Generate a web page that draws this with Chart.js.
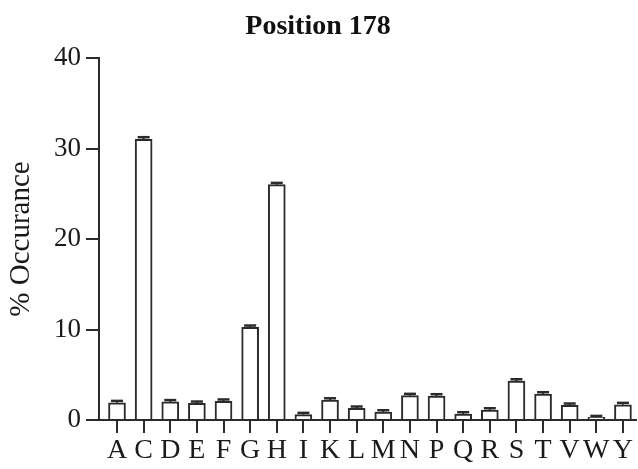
<!DOCTYPE html>
<html>
<head>
<meta charset="utf-8">
<script src="https://cdn.jsdelivr.net/npm/chart.js@4"></script>
<style>
html,body{margin:0;padding:0;background:#fff;}
#wrap{width:638px;height:469px;}
</style>
</head>
<body>
<div id="wrap"><canvas id="c" width="638" height="469"></canvas></div>
<script>
const categories = ["A","C","D","E","F","G","H","I","K","L","M","N","P","Q","R","S","T","V","W","Y"];
const occurrence = [1.91,31.0,2.0,1.84,2.07,10.24,26.0,0.59,2.2,1.29,0.88,2.69,2.65,0.66,1.1,4.3,2.87,1.62,0.3,1.69];
const errors = [0.2,0.25,0.2,0.2,0.2,0.2,0.2,0.2,0.2,0.2,0.2,0.2,0.2,0.2,0.2,0.2,0.2,0.2,0.15,0.2];
const yTicks = [0,10,20,30,40];
const titleText = "Position 178";
const yTitle = "% Occurance";

const ink = '#2b2b2b';
const serif = "'Liberation Serif','Times New Roman',serif";

const errorBars = {
  id: 'errorBars',
  afterDatasetsDraw(chart) {
    const meta = chart.getDatasetMeta(0);
    const ys = chart.scales.y;
    const ctx = chart.ctx;
    ctx.save();
    ctx.strokeStyle = ink;
    meta.data.forEach((bar, i) => {
      const top = ys.getPixelForValue(occurrence[i] + errors[i]);
      const base = ys.getPixelForValue(occurrence[i]);
      ctx.lineWidth = 2;
      ctx.beginPath();
      ctx.moveTo(bar.x, base);
      ctx.lineTo(bar.x, top);
      ctx.stroke();
      ctx.lineWidth = 2.5;
      ctx.beginPath();
      ctx.moveTo(bar.x - 6, top);
      ctx.lineTo(bar.x + 6, top);
      ctx.stroke();
    });
    ctx.restore();
  }
};

new Chart(document.getElementById('c'), {
  type: 'bar',
  data: {
    datasets: [{
      data: occurrence.map((v, i) => ({x: i, y: v})),
      backgroundColor: '#ffffff',
      borderColor: ink,
      borderWidth: 2,
      barThickness: 17
    }]
  },
  plugins: [errorBars],
  options: {
    responsive: false,
    animation: false,
    devicePixelRatio: 1,
    layout: {padding: {left: 0, right: 2, top: 0, bottom: 0}},
    plugins: {
      legend: {display: false},
      tooltip: {enabled: false},
      title: {
        display: true,
        text: titleText,
        color: '#111',
        font: {family: serif, size: 28, weight: 'bold', lineHeight: 1.2},
        padding: {top: 10, bottom: 14.4},
        align: 'center'
      }
    },
    scales: {
      x: {
        type: 'linear',
        offset: false,
        min: -0.676,
        max: 19.49,
        afterBuildTicks: (scale) => { scale.ticks = categories.map((c, i) => ({value: i})); },
        afterFit: (scale) => { scale.height = 49; },
        grid: {display: true, offset: false, drawOnChartArea: false, drawTicks: true, tickLength: 13, color: ink, lineWidth: 2},
        border: {display: true, color: ink, width: 2},
        ticks: {
          autoSkip: false,
          maxRotation: 0,
          padding: 1,
          color: '#1a1a1a',
          font: {family: serif, size: 28},
          callback: (v) => categories[v] !== undefined ? categories[v] : ''
        }
      },
      y: {
        min: 0,
        max: 40,
        afterBuildTicks: (scale) => { scale.ticks = yTicks.map(v => ({value: v})); },
        afterFit: (scale) => { scale.width = 99; },
        grid: {display: true, drawOnChartArea: false, drawTicks: true, tickLength: 13, color: ink, lineWidth: 2},
        border: {display: true, color: ink, width: 2},
        ticks: {
          padding: 5,
          color: '#1a1a1a',
          font: {family: serif, size: 27}
        },
        title: {
          display: true,
          text: yTitle,
          color: '#1a1a1a',
          font: {family: serif, size: 29, lineHeight: 1.2},
          padding: {top: 4, bottom: 0}
        }
      }
    }
  }
});
</script>
</body>
</html>
